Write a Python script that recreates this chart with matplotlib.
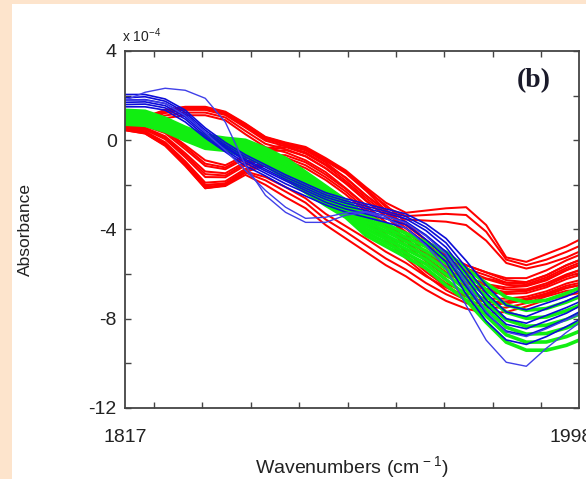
import matplotlib
matplotlib.use("Agg")
import matplotlib.pyplot as plt
from matplotlib.patches import Rectangle
from matplotlib.transforms import ScaledTranslation

plt.rcParams['font.family'] = ['Liberation Sans', 'DejaVu Sans']
plt.rcParams['mathtext.fontset'] = 'custom'
plt.rcParams['mathtext.rm'] = 'Liberation Sans'
plt.rcParams['mathtext.it'] = 'Liberation Sans'
plt.rcParams['axes.unicode_minus'] = False

# wavenumber grid (cm-1), absorbance in units of 1e-4
wavenumbers = [1817, 1825, 1833, 1841, 1849, 1857, 1865, 1873, 1881, 1889, 1897, 1905,
               1913, 1921, 1929, 1937, 1945, 1953, 1961, 1969, 1977, 1985, 1993, 1998]

# red spectra: dip near 1850, hump near 1880
red_dip = [
    [0.81, 0.72, 0.45, -0.22, -0.90, -1.12, -0.67, -0.36, -0.22, -0.45, -0.99, -1.70, -2.47, -3.14, -3.81, -4.48, -5.15, -5.60, -5.92, -6.27, -6.36, -6.05, -5.60, -5.38],
    [0.78, 0.68, 0.40, -0.30, -1.05, -1.22, -0.75, -0.45, -0.30, -0.60, -1.12, -1.82, -2.58, -3.28, -3.95, -4.62, -5.30, -5.75, -6.05, -6.38, -6.45, -6.15, -5.72, -5.50],
    [0.74, 0.64, 0.32, -0.40, -1.15, -1.30, -0.82, -0.51, -0.44, -0.72, -1.26, -1.94, -2.71, -3.41, -4.11, -4.79, -5.46, -5.91, -6.22, -6.48, -6.52, -6.23, -5.81, -5.60],
    [0.67, 0.56, 0.18, -0.58, -1.40, -1.48, -0.97, -0.66, -0.67, -0.99, -1.54, -2.18, -2.95, -3.68, -4.40, -5.11, -5.78, -6.23, -6.51, -6.69, -6.68, -6.41, -6.01, -5.83],
    [0.63, 0.52, 0.12, -0.67, -1.52, -1.58, -1.05, -0.74, -0.78, -1.12, -1.66, -2.30, -3.08, -3.82, -4.55, -5.27, -5.94, -6.40, -6.66, -6.80, -6.76, -6.50, -6.12, -5.95],
    [0.59, 0.47, 0.05, -0.76, -1.65, -1.66, -1.13, -0.82, -0.89, -1.25, -1.78, -2.43, -3.20, -3.94, -4.70, -5.42, -6.09, -6.54, -6.81, -6.89, -6.85, -6.59, -6.22, -6.05],
    [0.52, 0.39, -0.09, -0.94, -1.90, -1.84, -1.28, -0.97, -1.12, -1.52, -2.06, -2.67, -3.44, -4.21, -4.99, -5.74, -6.41, -6.86, -7.10, -7.10, -7.01, -6.77, -6.42, -6.28],
    [0.48, 0.35, -0.15, -1.03, -2.02, -1.93, -1.35, -1.05, -1.22, -1.65, -2.20, -2.80, -3.56, -4.35, -5.15, -5.90, -6.55, -7.00, -7.25, -7.22, -7.10, -6.86, -6.52, -6.40],
    [0.45, 0.31, -0.22, -1.12, -2.15, -2.02, -1.43, -1.12, -1.34, -1.79, -2.33, -2.91, -3.68, -4.48, -5.29, -6.05, -6.72, -7.17, -7.40, -7.31, -7.17, -6.95, -6.63, -6.50],
]
red_hump = [
    [0.90, 1.03, 1.34, 1.48, 1.48, 1.25, 0.72, 0.13, -0.13, -0.36, -0.90, -1.43, -2.24, -2.91, -3.68, -4.48, -5.15, -5.60, -5.92, -6.18, -6.18, -5.83, -5.38, -5.15],
    [0.78, 0.91, 1.22, 1.36, 1.36, 1.13, 0.57, -0.02, -0.27, -0.54, -1.08, -1.67, -2.46, -3.17, -3.95, -4.75, -5.41, -5.85, -6.19, -6.39, -6.36, -6.05, -5.60, -5.38],
    [0.66, 0.79, 1.11, 1.24, 1.24, 1.02, 0.42, -0.16, -0.40, -0.72, -1.25, -1.91, -2.69, -3.42, -4.21, -5.02, -5.66, -6.11, -6.45, -6.60, -6.54, -6.28, -5.83, -5.60],
    [0.54, 0.67, 0.99, 1.12, 1.12, 0.90, 0.27, -0.31, -0.54, -0.90, -1.43, -2.15, -2.91, -3.68, -4.48, -5.29, -5.92, -6.36, -6.72, -6.81, -6.72, -6.50, -6.05, -5.83],
]
red_upper = [
    [0.90, 1.05, 1.36, 1.50, 1.50, 1.28, 0.75, 0.15, -0.10, -0.30, -0.80, -1.35, -2.10, -2.80, -3.25, -3.15, -3.05, -3.00, -3.80, -5.25, -5.45, -5.10, -4.75, -4.47],
    [0.85, 0.98, 1.30, 1.45, 1.45, 1.22, 0.68, 0.10, -0.15, -0.35, -0.85, -1.40, -2.15, -3.00, -3.40, -3.35, -3.30, -3.35, -4.10, -5.35, -5.60, -5.35, -5.00, -4.75],
    [0.80, 0.95, 1.26, 1.40, 1.40, 1.18, 0.63, 0.05, -0.20, -0.42, -0.92, -1.48, -2.25, -3.15, -3.55, -3.60, -3.65, -3.80, -4.50, -5.50, -5.75, -5.55, -5.25, -5.00],
]
red_lower = [
    [0.55, 0.40, -0.15, -1.00, -2.00, -1.95, -1.40, -1.65, -2.10, -2.60, -3.30, -3.85, -4.40, -5.00, -5.50, -6.10, -6.60, -7.00, -7.25, -7.30, -7.15, -6.90, -6.60, -6.50],
    [0.50, 0.35, -0.20, -1.10, -2.10, -2.00, -1.45, -1.80, -2.30, -2.80, -3.55, -4.10, -4.70, -5.30, -5.80, -6.40, -6.90, -7.30, -7.50, -7.50, -7.30, -7.00, -6.75, -6.70],
    [0.45, 0.30, -0.25, -1.15, -2.15, -2.05, -1.55, -2.00, -2.55, -3.05, -3.80, -4.40, -5.00, -5.60, -6.10, -6.70, -7.20, -7.55, -7.75, -7.70, -7.45, -7.15, -6.95, -6.85],
]

green_band = [
    [1.34, 1.30, 0.99, 0.58, 0.22, 0.09, 0.00, -0.36, -0.81, -1.43, -2.06, -2.69, -3.36, -3.76, -4.17, -4.57, -5.02, -5.74, -6.41, -7.04, -7.26, -7.17, -6.86, -6.63],
    [1.24, 1.19, 0.89, 0.48, 0.12, 0.00, -0.12, -0.49, -0.96, -1.58, -2.20, -2.82, -3.51, -3.93, -4.35, -4.77, -5.27, -5.98, -6.70, -7.38, -7.62, -7.54, -7.25, -7.02],
    [1.14, 1.09, 0.80, 0.39, 0.03, -0.09, -0.24, -0.61, -1.11, -1.73, -2.34, -2.94, -3.66, -4.09, -4.53, -4.96, -5.51, -6.22, -6.99, -7.71, -7.98, -7.92, -7.64, -7.41],
    [1.03, 0.99, 0.70, 0.29, -0.07, -0.18, -0.36, -0.74, -1.26, -1.88, -2.49, -3.07, -3.81, -4.26, -4.71, -5.16, -5.76, -6.46, -7.29, -8.05, -8.34, -8.29, -8.03, -7.80],
    [0.93, 0.88, 0.60, 0.19, -0.17, -0.27, -0.48, -0.87, -1.40, -2.03, -2.63, -3.20, -3.96, -4.42, -4.88, -5.35, -6.01, -6.69, -7.58, -8.38, -8.69, -8.66, -8.41, -8.18],
    [0.82, 0.78, 0.50, 0.10, -0.26, -0.36, -0.60, -0.99, -1.55, -2.18, -2.77, -3.32, -4.11, -4.59, -5.06, -5.55, -6.25, -6.93, -7.87, -8.72, -9.05, -9.04, -8.80, -8.57],
    [0.72, 0.67, 0.40, 0.00, -0.36, -0.45, -0.72, -1.12, -1.70, -2.33, -2.91, -3.45, -4.26, -4.75, -5.24, -5.74, -6.50, -7.17, -8.16, -9.05, -9.41, -9.41, -9.19, -8.96],
]

blue_band = [
    [2.05, 2.05, 1.85, 1.35, 0.55, -0.10, -0.65, -1.10, -1.55, -1.95, -2.35, -2.62, -2.85, -3.08, -3.30, -3.75, -4.40, -5.40, -6.50, -7.40, -7.60, -7.30, -7.00, -6.75],
    [1.90, 1.95, 1.75, 1.25, 0.45, -0.20, -0.75, -1.20, -1.65, -2.05, -2.45, -2.72, -2.95, -3.18, -3.42, -3.90, -4.60, -5.70, -6.85, -7.70, -7.90, -7.55, -7.20, -6.95],
    [1.80, 1.82, 1.65, 1.15, 0.35, -0.28, -0.85, -1.30, -1.75, -2.15, -2.55, -2.82, -3.05, -3.28, -3.52, -4.05, -4.80, -5.95, -7.15, -8.00, -8.20, -7.85, -7.50, -7.25],
    [1.70, 1.72, 1.55, 1.05, 0.28, -0.35, -0.92, -1.38, -1.82, -2.25, -2.65, -2.95, -3.15, -3.40, -3.65, -4.25, -5.00, -6.20, -7.40, -8.25, -8.45, -8.10, -7.75, -7.45],
    [1.60, 1.62, 1.45, 0.95, 0.18, -0.45, -1.02, -1.48, -1.95, -2.35, -2.78, -3.08, -3.30, -3.52, -3.78, -4.45, -5.25, -6.55, -7.75, -8.55, -8.75, -8.40, -8.00, -7.70],
    [1.50, 1.50, 1.35, 0.82, 0.10, -0.52, -1.15, -1.60, -2.10, -2.50, -2.90, -3.22, -3.45, -3.68, -3.93, -4.65, -5.45, -6.90, -8.10, -8.95, -9.15, -8.80, -8.35, -8.05],
]
blue_outliers = [
    [1.79, 2.15, 2.33, 2.24, 1.88, 0.81, -1.12, -2.47, -3.23, -3.68, -3.68, -3.36, -3.23, -3.50, -3.94, -4.71, -5.74, -7.40, -8.96, -9.95, -10.13, -9.32, -8.61, -8.20],
    [1.80, 1.80, 1.65, 1.10, 0.35, -0.45, -1.35, -2.25, -3.00, -3.50, -3.45, -3.25, -3.20, -3.40, -3.70, -4.30, -5.10, -6.40, -7.70, -8.60, -8.80, -8.45, -8.05, -7.80],
]

x_minor = [1828.6, 1847.7, 1867.2, 1886.4, 1905.9, 1925.0, 1944.2, 1963.7, 1982.9]

fig = plt.figure(figsize=(5.86, 4.79), dpi=100, facecolor='#fde4cc')
fig.patches.append(Rectangle((12 / 586, 0), 1, 475 / 479, transform=fig.transFigure,
                             facecolor='white', edgecolor='none', zorder=-5))

ax = fig.add_axes([125 / 586, 71 / 479, 454 / 586, 357 / 479])
ax.set_zorder(2)
ax.set_facecolor('white')

for y in red_dip + red_hump + red_upper + red_lower:
    ax.plot(wavenumbers, y, color='#ff0000', lw=1.45, solid_joinstyle='round')
for y in green_band:
    ax.plot(wavenumbers, y, color='#11ee11', lw=2.6, solid_joinstyle='round')
for y in blue_band:
    ax.plot(wavenumbers, y, color='#0c0cd8', lw=1.2, solid_joinstyle='round')
for y in blue_outliers:
    ax.plot(wavenumbers, y, color='#4040e8', lw=1.0, solid_joinstyle='round')

ax.set_xlim(1817, 1998)
ax.set_ylim(-12, 4)

ax.set_yticks([-12, -8, -4, 0, 4])
ax.set_yticklabels(['-12', '-8', '-4', '0', '4'])
ax.set_yticks([-10, -6, -2, 2], minor=True)
ax.tick_params(axis='y', which='both', direction='in', left=True, right=True,
               length=4, width=1, color='#444444', labelsize=14, pad=6, labelcolor='#222222')

ax.set_xticks([1817, 1998])
ax.set_xticklabels(['1817', '1998'])
ax.set_xticks(x_minor, minor=True)
ax.tick_params(axis='x', which='major', length=0, pad=15, labelsize=14, labelcolor='#222222')
ax.tick_params(axis='x', which='minor', direction='in', top=True, bottom=True,
               length=4, width=1, color='#444444')
# last wavenumber label sits a little left of the frame corner
last = ax.get_xticklabels()[-1]
last.set_transform(last.get_transform() + ScaledTranslation(-0.08, 0, fig.dpi_scale_trans))

for s in ax.spines.values():
    s.set_color('#444444')
    s.set_linewidth(1.3)

fig.text(122 / 586, 1 - 42 / 479, 'x 10$^{-4}$', fontsize=10, color='#222222', va='baseline')
fig.text(534 / 586, 1 - 81 / 479, '(b)', fontsize=20, fontweight='bold',
         family='Liberation Serif', color='#1a1a2a', ha='center', va='center')
fig.text(25 / 586, 1 - 230 / 479, 'Absorbance', fontsize=12.5, rotation=90,
         ha='center', va='center', color='#222222')
fig.text(352 / 586, 1 - 467 / 479, 'Wavenumbers (cm$^{\\,-1}$)', fontsize=14,
         ha='center', va='center', color='#222222')

fig.savefig('out.png', dpi=100, facecolor=fig.get_facecolor())
plt.close(fig)
